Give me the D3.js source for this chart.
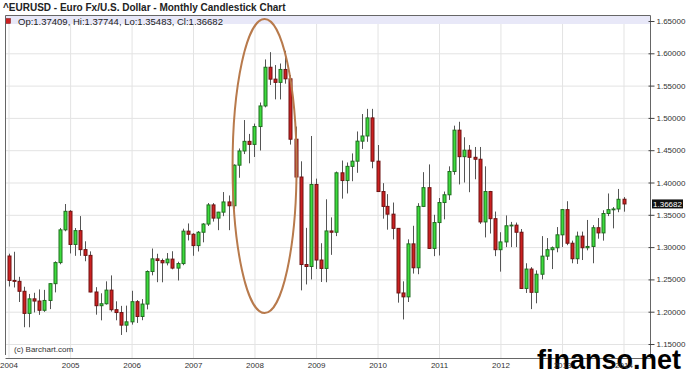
<!DOCTYPE html>
<html>
<head>
<meta charset="utf-8">
<script src="https://cdn.jsdelivr.net/npm/d3@7"></script>
<style>
  body { margin: 0; background: #fff; }
  svg { font-family: Arial, "Liberation Sans", sans-serif; }
</style>
</head>
<body>
<div id="chart"></div>
<script>
// monthly candles, Jan 2004 .. Jan 2014
const firstMonth = new Date(2004, 0, 1);
const lastMonth = new Date(2014, 0, 1);

const opens = [
  1.2862, 1.2484, 1.2470, 1.2316, 1.1974, 1.2199, 1.2165, 1.2022, 1.2174, 1.2434, 1.2760, 1.3267,
  1.3554, 1.3041, 1.3255, 1.2961, 1.2872, 1.2305, 1.2093, 1.2123, 1.2334, 1.2031, 1.1987, 1.1792,
  1.1843, 1.2155, 1.1926, 1.2118, 1.2622, 1.2818, 1.2792, 1.2757, 1.2814, 1.2675, 1.2745, 1.3247,
  1.3199, 1.3023, 1.3230, 1.3357, 1.3653, 1.3449, 1.3541, 1.3699, 1.3640, 1.4268, 1.4488, 1.4637,
  1.4590, 1.4866, 1.5185, 1.5784, 1.5600, 1.5550, 1.5750, 1.5605, 1.4670, 1.4085, 1.2730, 1.2700,
  1.3970, 1.2800, 1.2670, 1.3250, 1.3230, 1.4150, 1.4030, 1.4250, 1.4330, 1.4640, 1.4720, 1.5000,
  1.4330, 1.3860, 1.3630, 1.3510, 1.3290, 1.2290, 1.2230, 1.3050, 1.2680, 1.3630, 1.3920, 1.2980,
  1.3380, 1.3690, 1.3810, 1.4170, 1.4810, 1.4400, 1.4500, 1.4390, 1.4360, 1.3390, 1.3860, 1.3440,
  1.2960, 1.3080, 1.3330, 1.3340, 1.3230, 1.2360, 1.2660, 1.2300, 1.2580, 1.2860, 1.2960, 1.2990,
  1.3190, 1.3580, 1.3060, 1.2820, 1.3170, 1.2990, 1.3010, 1.3300, 1.3220, 1.3520, 1.3580, 1.3590,
  1.37409
];
const highs = [
  1.2898, 1.2928, 1.2540, 1.2386, 1.2275, 1.2293, 1.2345, 1.2338, 1.2441, 1.2780, 1.3296, 1.3667,
  1.3572, 1.3295, 1.3480, 1.3090, 1.2934, 1.2380, 1.2285, 1.2470, 1.2562, 1.2161, 1.2090, 1.2094,
  1.2324, 1.2180, 1.2195, 1.2640, 1.2978, 1.2897, 1.2822, 1.2908, 1.2936, 1.2773, 1.3285, 1.3366,
  1.3215, 1.3249, 1.3371, 1.3682, 1.3681, 1.3546, 1.3852, 1.3799, 1.4281, 1.4527, 1.4967, 1.4752,
  1.4912, 1.5238, 1.5905, 1.6018, 1.5818, 1.5842, 1.6038, 1.5663, 1.4866, 1.4328, 1.3298, 1.4720,
  1.4060, 1.3060, 1.3740, 1.3460, 1.4170, 1.4340, 1.4310, 1.4450, 1.4790, 1.5060, 1.5140, 1.5140,
  1.4580, 1.3990, 1.3820, 1.3690, 1.3290, 1.2470, 1.3120, 1.3330, 1.3680, 1.4160, 1.4280, 1.3500,
  1.3760, 1.3860, 1.4250, 1.4880, 1.4940, 1.4700, 1.4580, 1.4550, 1.4550, 1.4250, 1.3870, 1.3550,
  1.3230, 1.3490, 1.3390, 1.3380, 1.3280, 1.2750, 1.2690, 1.2640, 1.3170, 1.3140, 1.3010, 1.3310,
  1.3590, 1.3710, 1.3100, 1.3240, 1.3240, 1.3420, 1.3340, 1.3450, 1.3570, 1.3830, 1.3620, 1.3900,
  1.37744
];
const lows = [
  1.2390, 1.2375, 1.2150, 1.1760, 1.1759, 1.1989, 1.1951, 1.1997, 1.2040, 1.2299, 1.2734, 1.3245,
  1.2902, 1.2865, 1.2865, 1.2781, 1.2300, 1.1954, 1.1866, 1.2110, 1.2002, 1.1867, 1.1640, 1.1683,
  1.1800, 1.1826, 1.1868, 1.2036, 1.2563, 1.2457, 1.2455, 1.2717, 1.2656, 1.2483, 1.2720, 1.3103,
  1.2866, 1.2932, 1.3074, 1.3327, 1.3395, 1.3262, 1.3479, 1.3262, 1.3588, 1.4073, 1.4440, 1.4297,
  1.4395, 1.4495, 1.5163, 1.5510, 1.5287, 1.5286, 1.5530, 1.4587, 1.3881, 1.2330, 1.2422, 1.2500,
  1.2660, 1.2460, 1.2456, 1.2880, 1.3170, 1.3750, 1.3830, 1.4020, 1.4150, 1.4520, 1.4630, 1.4220,
  1.3860, 1.3440, 1.3270, 1.3120, 1.2140, 1.1880, 1.2150, 1.2590, 1.2580, 1.3620, 1.2970, 1.2860,
  1.2870, 1.3430, 1.3730, 1.4120, 1.3970, 1.4000, 1.3850, 1.4050, 1.3360, 1.3150, 1.3210, 1.2860,
  1.2620, 1.3000, 1.3000, 1.3000, 1.2360, 1.2290, 1.2040, 1.2130, 1.2500, 1.2800, 1.2660, 1.2920,
  1.3000, 1.3030, 1.2750, 1.2740, 1.2800, 1.2950, 1.2750, 1.3130, 1.3100, 1.3480, 1.3290, 1.3540,
  1.35483
];
const closes = [
  1.2484, 1.2470, 1.2316, 1.1974, 1.2199, 1.2165, 1.2022, 1.2174, 1.2434, 1.2760, 1.3267, 1.3554,
  1.3041, 1.3255, 1.2961, 1.2872, 1.2305, 1.2093, 1.2123, 1.2334, 1.2031, 1.1987, 1.1792, 1.1843,
  1.2155, 1.1926, 1.2118, 1.2622, 1.2818, 1.2792, 1.2757, 1.2814, 1.2675, 1.2745, 1.3247, 1.3199,
  1.3023, 1.3230, 1.3357, 1.3653, 1.3449, 1.3541, 1.3699, 1.3640, 1.4268, 1.4488, 1.4637, 1.4590,
  1.4866, 1.5185, 1.5784, 1.5600, 1.5550, 1.5750, 1.5605, 1.4670, 1.4085, 1.2730, 1.2700, 1.3970,
  1.2800, 1.2670, 1.3250, 1.3230, 1.4150, 1.4030, 1.4250, 1.4330, 1.4640, 1.4720, 1.5000, 1.4330,
  1.3860, 1.3630, 1.3510, 1.3290, 1.2290, 1.2230, 1.3050, 1.2680, 1.3630, 1.3920, 1.2980, 1.3380,
  1.3690, 1.3810, 1.4170, 1.4810, 1.4400, 1.4500, 1.4390, 1.4360, 1.3390, 1.3860, 1.3440, 1.2960,
  1.3080, 1.3330, 1.3340, 1.3230, 1.2360, 1.2660, 1.2300, 1.2580, 1.2860, 1.2960, 1.2990, 1.3190,
  1.3580, 1.3060, 1.2820, 1.3170, 1.2990, 1.3010, 1.3300, 1.3220, 1.3520, 1.3580, 1.3590, 1.3740,
  1.36682
];

const yearTicks = [2004, 2005, 2006, 2007, 2008, 2009, 2010, 2011, 2012, 2013, 2014];
const priceTicks = [1.15, 1.20, 1.25, 1.30, 1.35, 1.40, 1.45, 1.50, 1.55, 1.60, 1.65];
const lastPrice = 1.36682;
const legendText = "Op:1.37409, Hi:1.37744, Lo:1.35483, Cl:1.36682";

const W = 688, H = 380;
const frame = {left: 5, right: 650, top: 15, bottom: 358};

const months = d3.timeMonth.range(firstMonth, d3.timeMonth.offset(lastMonth, 1));
const candles = months.map((m, i) => ({
  date: m, o: opens[i], h: highs[i], l: lows[i], c: closes[i]
}));

const svg = d3.select("#chart").append("svg")
  .attr("width", W).attr("height", H);

const x = d3.scaleTime()
  .domain([firstMonth, lastMonth])
  .range([8.5, 623.5]);

const y = d3.scaleLinear()
  .domain([1.15, 1.65])
  .range([344, 21]);

// title
svg.append("text")
  .attr("x", 3).attr("y", 11)
  .attr("font-size", 10).attr("font-weight", "bold").attr("fill", "#222")
  .text("^EURUSD - Euro Fx/U.S. Dollar - Monthly Candlestick Chart");

// grid
const yearDates = yearTicks.map(yr => new Date(yr, 0, 1));
svg.append("g")
  .attr("transform", "translate(0," + frame.bottom + ")")
  .call(d3.axisBottom(x).tickValues(yearDates).tickSize(-(frame.bottom - frame.top)).tickFormat(""))
  .call(g => g.select(".domain").remove())
  .call(g => g.selectAll("line").attr("stroke", "#e3e3e3"));

svg.append("g")
  .attr("transform", "translate(" + frame.left + ",0)")
  .call(d3.axisLeft(y).tickValues(priceTicks).tickSize(-(frame.right - frame.left)).tickFormat(""))
  .call(g => g.select(".domain").remove())
  .call(g => g.selectAll("line").attr("stroke", "#e3e3e3"));

// legend band
svg.append("rect")
  .attr("x", frame.left).attr("y", frame.top)
  .attr("width", frame.right - frame.left).attr("height", 9)
  .attr("fill", "#e8e8f8");
svg.append("rect")
  .attr("x", 5.5).attr("y", 18.5).attr("width", 5).attr("height", 5)
  .attr("fill", "#cc2020").attr("stroke", "#7a1010").attr("stroke-width", 0.5);
svg.append("text")
  .attr("x", 18).attr("y", 24.5)
  .attr("font-size", 9.5).attr("fill", "#222")
  .text(legendText);

// frame
svg.append("path")
  .attr("d", `M${frame.left + 0.5},${frame.bottom - 3}V${frame.top + 0.5}H${frame.right + 0.5}V${frame.bottom + 0.5}H${frame.left + 0.5}`)
  .attr("fill", "none").attr("stroke", "#666").attr("stroke-width", 1);

svg.append("text")
  .attr("x", 14).attr("y", 352)
  .attr("font-size", 8).attr("fill", "#333")
  .text("(c) Barchart.com");

// candles
const g = svg.append("g");
g.selectAll("line.wick").data(candles).join("line")
  .attr("class", "wick")
  .attr("x1", d => Math.round(x(d.date)) + 0.5)
  .attr("x2", d => Math.round(x(d.date)) + 0.5)
  .attr("y1", d => y(d.h)).attr("y2", d => y(d.l))
  .attr("stroke", "#555").attr("stroke-width", 1);

g.selectAll("rect.body").data(candles).join("rect")
  .attr("class", "body")
  .attr("x", d => Math.round(x(d.date)) - 1)
  .attr("width", 3)
  .attr("y", d => y(Math.max(d.o, d.c)))
  .attr("height", d => Math.max(0.8, Math.abs(y(d.o) - y(d.c))))
  .attr("fill", d => d.c >= d.o ? "#3cdc3c" : "#cc2020")
  .attr("stroke", d => d.c >= d.o ? "#1f6e1f" : "#6e1212")
  .attr("stroke-width", 1);

// right price axis
svg.append("g")
  .attr("transform", "translate(" + (frame.right + 0.5) + ",0)")
  .call(d3.axisRight(y).tickValues(priceTicks).tickSize(4).tickPadding(2).tickFormat(d3.format(".5f")))
  .call(g => g.select(".domain").remove())
  .call(g => g.selectAll("line").attr("stroke", "#444").attr("x1", -2))
  .call(g => g.selectAll("text").attr("font-size", 8).attr("fill", "#333").attr("font-family", "Arial, 'Liberation Sans', sans-serif"));

// last price marker
svg.append("rect")
  .attr("x", 652).attr("y", y(lastPrice) - 4.5)
  .attr("width", 31).attr("height", 9)
  .attr("fill", "#111");
svg.append("text")
  .attr("x", 667.5).attr("y", y(lastPrice) + 3)
  .attr("text-anchor", "middle")
  .attr("font-size", 8).attr("fill", "#fff")
  .text(d3.format(".5f")(lastPrice));

// annotation ellipse around 2008
svg.append("ellipse")
  .attr("cx", x(new Date(2008, 2, 1))).attr("cy", 166)
  .attr("rx", 32).attr("ry", 147)
  .attr("fill", "none").attr("stroke", "#b87a4c").attr("stroke-width", 2);

// watermark
svg.append("text")
  .attr("x", 537).attr("y", 369)
  .attr("font-size", 27).attr("font-weight", "bold").attr("fill", "#000")
  .text("finanso.net");

// year axis
svg.append("g")
  .attr("transform", "translate(0," + frame.bottom + ")")
  .call(d3.axisBottom(x).tickValues(yearDates).tickSize(0).tickPadding(4).tickFormat(d3.timeFormat("%Y")))
  .call(g => g.select(".domain").remove())
  .call(g => g.selectAll("text").attr("font-size", 8).attr("fill", "#333").attr("font-family", "Arial, 'Liberation Sans', sans-serif"));
</script>
</body>
</html>
